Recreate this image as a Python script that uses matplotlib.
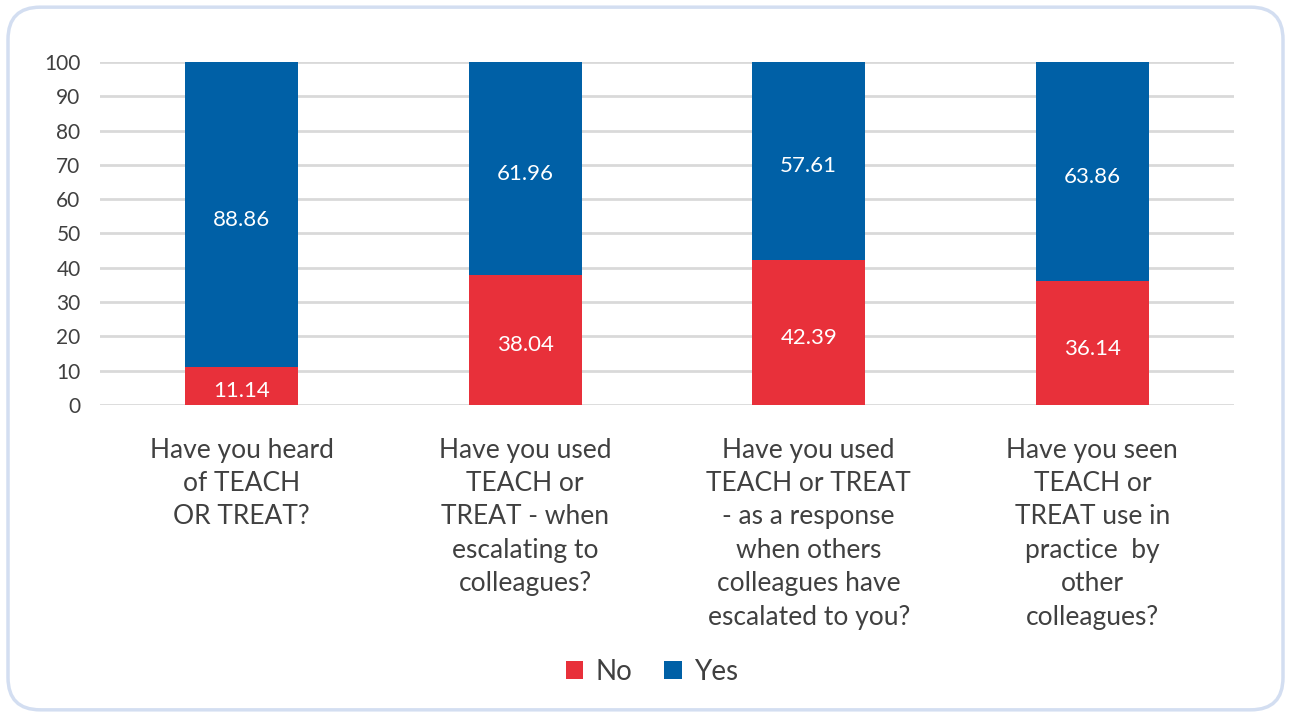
import matplotlib.pyplot as plt
from matplotlib.patches import FancyBboxPatch
import numpy as np

categories = [
    "Have you heard\nof TEACH\nOR TREAT?",
    "Have you used\nTEACH or\nTREAT - when\nescalating to\ncolleagues?",
    "Have you used\nTEACH or TREAT\n- as a response\nwhen others\ncolleagues have\nescalated to you?",
    "Have you seen\nTEACH or\nTREAT use in\npractice  by\nother\ncolleagues?",
]
no_values = [11.14, 38.04, 42.39, 36.14]
yes_values = [88.86, 61.96, 57.61, 63.86]
yticks = list(range(0, 101, 10))

red = "#E8303A"
blue = "#0060A6"
txt = "#404040"

plt.rcParams['font.family'] = ['Lato', 'DejaVu Sans']

fig = plt.figure(figsize=(12.9, 7.17), dpi=100)
# rounded light-blue frame round the whole chart
border = FancyBboxPatch((8 / 1290, 0.01), 1275 / 1290, 0.98,
                        boxstyle="round,pad=0,rounding_size=0.025",
                        transform=fig.transFigure, facecolor="white",
                        edgecolor="#D3DEF1", linewidth=2.5,
                        mutation_aspect=1290 / 717, zorder=-10)
fig.patches.append(border)

ax = fig.add_axes([100 / 1290, 1 - 405 / 717, 1134 / 1290, 343 / 717])
ax.set_facecolor("none")
x = np.arange(len(categories))
w = 0.4
ax.bar(x, no_values, w, color=red, label="No", zorder=3)
ax.bar(x, yes_values, w, bottom=no_values, color=blue, label="Yes", zorder=3)

for i in range(len(x)):
    ax.annotate(f"{no_values[i]:.2f}", (x[i], no_values[i] / 2), xytext=(0, -4),
                textcoords="offset points", ha="center", va="center",
                color="white", fontsize=16, zorder=4)
    ax.annotate(f"{yes_values[i]:.2f}", (x[i], no_values[i] + yes_values[i] / 2),
                xytext=(0, -4), textcoords="offset points", ha="center",
                va="center", color="white", fontsize=16, zorder=4)

ax.set_xlim(-0.5, 3.5)
ax.set_ylim(0, 100)
ax.set_yticks(yticks)
ax.set_yticklabels([str(t) for t in yticks], fontsize=15, color=txt)
ax.yaxis.grid(True, color="#D9D9D9", linewidth=2, zorder=0)
ax.set_axisbelow(True)
ax.tick_params(length=0, pad=14)
ax.set_xticks([])
for s in ax.spines.values():
    s.set_visible(False)

for i, c in enumerate(categories):
    ax.text(x[i], -9.5, c, ha="center", va="top", fontsize=19, color=txt,
            linespacing=1.42, clip_on=False)

leg = fig.legend(loc="center", bbox_to_anchor=(652 / 1290, 1 - 672 / 717), ncol=2,
                 frameon=False, fontsize=20, handlelength=0.62, handleheight=0.62,
                 handletextpad=0.45, columnspacing=1.15)
for t in leg.get_texts():
    t.set_color(txt)

fig.savefig("out.png", dpi=100)
